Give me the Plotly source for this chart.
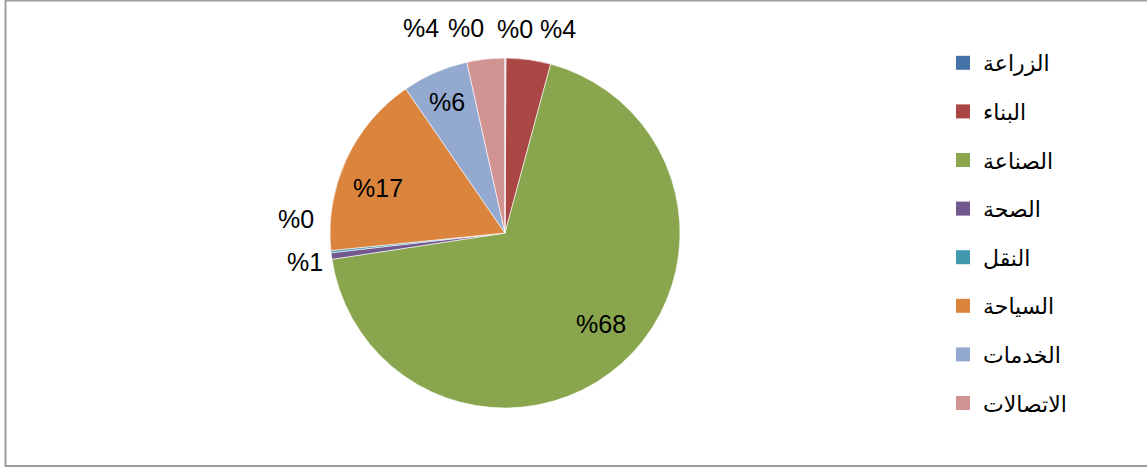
import plotly.graph_objects as go

categories = ["الزراعة", "البناء", "الصناعة", "الصحة", "النقل", "السياحة", "الخدمات", "الاتصالات", ""]
shares = [0.1, 4.1, 68.4, 0.6, 0.2, 17.0, 6.1, 3.5, 0.0]
colors = ["#4572A7", "#AA4643", "#89A54E", "#71588F", "#4198AF", "#DB843D", "#93A9CF", "#D19392", "#B5CA92"]

labels_text = ["%" + str(int(v + 0.5)) for v in shares]

# label positions (px) as Excel placed them
label_pos = {0: (515, 29), 1: (558, 29), 2: (601, 324), 3: (305, 262), 4: (296, 219),
             5: (378, 188), 6: (447, 102), 7: (421, 28), 8: (466, 28)}

W, H = 1147, 468
FONT = "Liberation Sans, Arial, DejaVu Sans, sans-serif"

fig = go.Figure()
fig.add_trace(go.Pie(
    labels=categories, values=shares, sort=False, direction="clockwise", rotation=0,
    marker=dict(colors=colors, line=dict(color="white", width=0.6)),
    textinfo="none", showlegend=False, hoverinfo="label+percent",
    domain=dict(x=[330 / W, 680 / W], y=[1 - 408 / H, 1 - 58 / H]),
))

for i, (px, py) in label_pos.items():
    fig.add_annotation(x=px / W, y=1 - py / H, xref="paper", yref="paper", text=labels_text[i],
                       xanchor="center", yanchor="middle",
                       showarrow=False, font=dict(family=FONT, size=25, color="black"))

for i, c in enumerate(categories):
    if not c:
        continue
    fig.add_trace(go.Scatter(x=[None], y=[None], mode="markers", name=c, legendgroup=c,
                             marker=dict(symbol="square", size=14, color=colors[i])))

fig.update_layout(
    width=W, height=H, margin=dict(l=0, r=0, t=0, b=0),
    paper_bgcolor="white", plot_bgcolor="white",
    xaxis=dict(visible=False), yaxis=dict(visible=False),
    legend=dict(x=943 / W, y=1 - 42 / H, xanchor="left", yanchor="top",
                font=dict(family=FONT, size=22, color="black"), tracegroupgap=17,
                itemsizing="trace"),
    shapes=[dict(type="rect", xref="paper", yref="paper", x0=5.5 / W, x1=1.02,
                 y0=1 - 466 / H, y1=1 - 0.5 / H, line=dict(color="#9C9C9C", width=2))],
)

fig.write_html("out.html", config={"displayModeBar": False},
               post_script="document.body.style.margin='0';document.body.style.overflow='hidden';")
